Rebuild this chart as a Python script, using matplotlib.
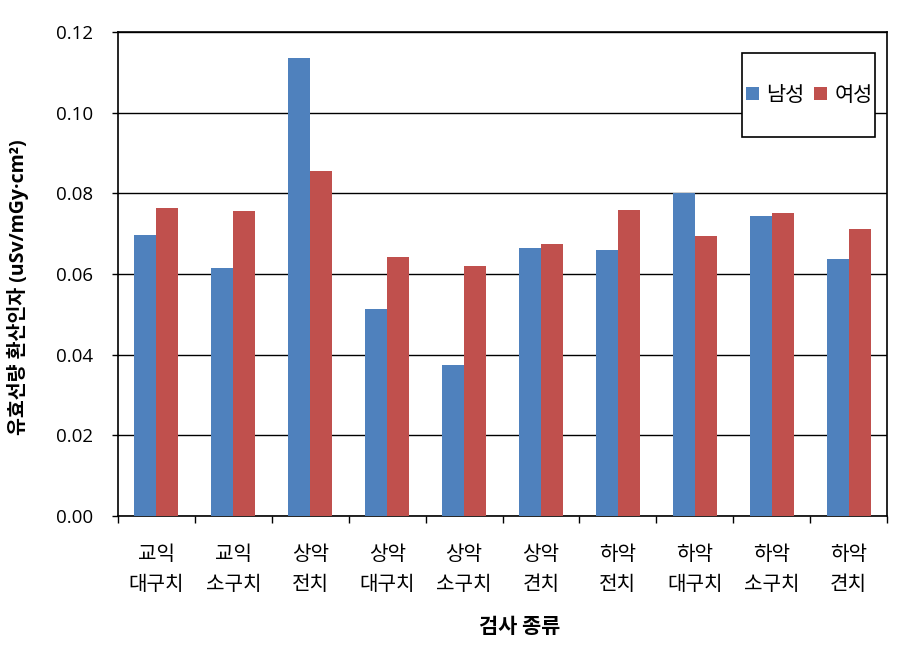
import matplotlib
matplotlib.use("Agg")
import matplotlib.pyplot as plt
from matplotlib.patches import Rectangle
import numpy as np

plt.rcParams['font.family'] = ['Noto Sans CJK KR', 'DejaVu Sans']

categories = ["교익\n대구치", "교익\n소구치", "상악\n전치", "상악\n대구치", "상악\n소구치",
              "상악\n견치", "하악\n전치", "하악\n대구치", "하악\n소구치", "하악\n견치"]
male = [0.0697, 0.0615, 0.1136, 0.0513, 0.0374, 0.0664, 0.0660, 0.0801, 0.0744, 0.0637]
female = [0.0764, 0.0756, 0.0855, 0.0642, 0.0620, 0.0674, 0.0759, 0.0694, 0.0751, 0.0712]
series_names = ["남성", "여성"]
yticks = [0.00, 0.02, 0.04, 0.06, 0.08, 0.10, 0.12]

fig = plt.figure(figsize=(9.11, 6.45), dpi=100)
ax = fig.add_axes([0.1295, 0.2, 0.8442, 0.7504])

x = np.arange(len(categories))
w = 0.286
ax.bar(x - w/2, male, w, color='#4F81BD', label=series_names[0], zorder=3)
ax.bar(x + w/2, female, w, color='#C0504D', label=series_names[1], zorder=3)

ax.set_xlim(-0.5, len(categories) - 0.5)
ax.set_ylim(0, 0.12)
ax.set_yticks(yticks)
ax.set_yticklabels([f"{v:.2f}" for v in yticks], fontsize=13.5, family=['Open Sans', 'DejaVu Sans'])
ax.yaxis.grid(True, color='black', linewidth=1, zorder=0)
ax.set_axisbelow(True)

ax.set_xticks(x)
ax.set_xticklabels(categories, fontsize=14.5, linespacing=1.55)
ax.tick_params(axis='x', length=0, pad=20)
ax.set_xticks(np.arange(len(categories) + 1) - 0.5, minor=True)
ax.tick_params(axis='x', which='minor', length=5, direction='out', width=1)
ax.tick_params(axis='y', length=4, direction='out', width=1, pad=14)

for s in ax.spines.values():
    s.set_linewidth(1.2)
    s.set_color('black')

ax.set_ylabel("유효선량 환산인자 (uSv/mGy·cm²)", fontsize=14, fontweight='bold',
              family=['Open Sans', 'Noto Sans CJK KR'])
ax.yaxis.set_label_coords(-0.116, 0.473)
ax.set_xlabel("검사 종류", fontsize=15, fontweight='bold')
ax.xaxis.set_label_coords(0.5228, -0.207)

# legend box
bx, by, bw, bh = 0.8114, 0.783, 0.173, 0.1736
ax.add_patch(Rectangle((bx, by), bw, bh, transform=ax.transAxes, facecolor='white',
                       edgecolor='black', linewidth=1.2, zorder=5))
leg = ax.legend(loc='center', bbox_to_anchor=(bx + bw/2 + 0.001, by + bh/2), ncol=2, fontsize=15,
                frameon=False, borderpad=0,
                handlelength=0.6, handleheight=0.6, handletextpad=0.35, columnspacing=0.5,
                borderaxespad=0)
leg.set_zorder(6)

fig.savefig("out.png", dpi=100, facecolor='white')
